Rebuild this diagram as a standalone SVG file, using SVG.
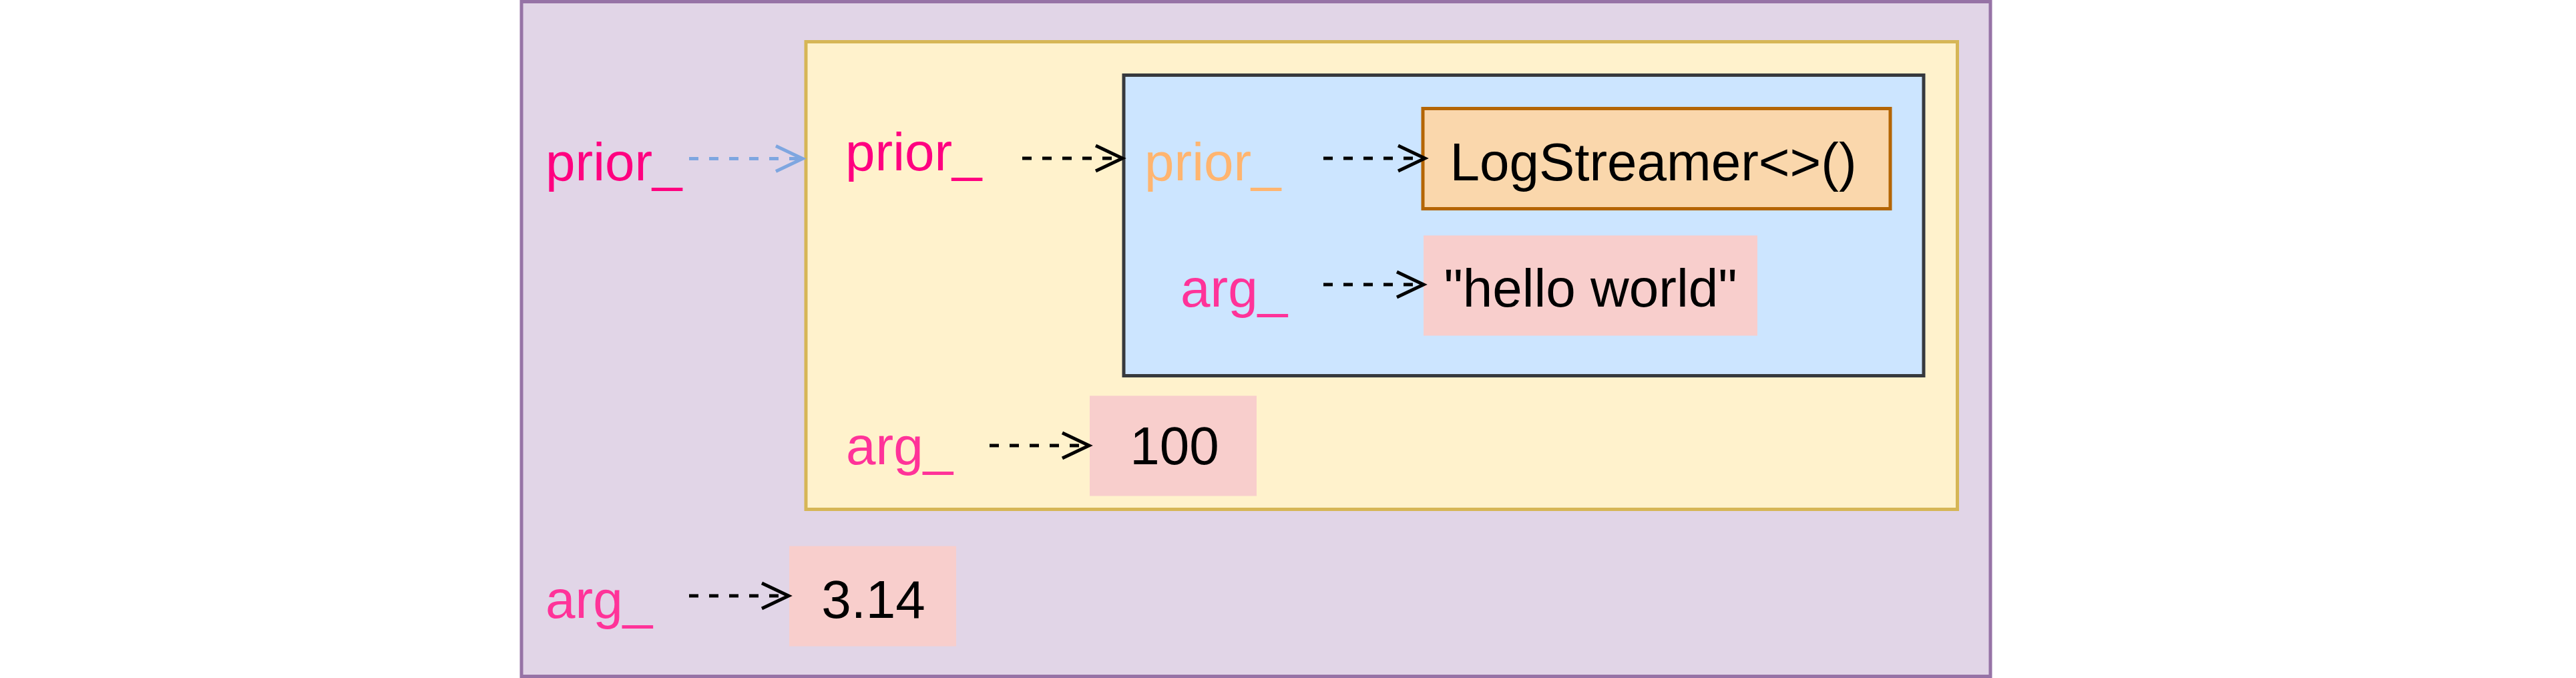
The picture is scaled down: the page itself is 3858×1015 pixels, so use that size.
<svg xmlns="http://www.w3.org/2000/svg" width="3858" height="1015" viewBox="0 0 3858 1015">
  <style>
    text { font-family: "Liberation Sans", Arial, Helvetica, sans-serif; font-size: 80px; }
    .val { fill: #000000; text-anchor: middle; }
    .prior { fill: #FF0080; }
    .priorIn { fill: #FFB570; }
    .arg { fill: #FF3399; }
    .conn { fill: none; stroke-width: 5; stroke-dasharray: 14 16; }
    .blk { stroke: #000000; marker-end: url(#openBlack); }
    .blu { stroke: #7EA6E0; marker-end: url(#openBlue); }
    .valbox { fill: #F8CECC; stroke: none; }
  </style>
  <defs>
    <marker id="openBlack" markerUnits="userSpaceOnUse" refX="0" refY="0" markerWidth="60" markerHeight="60" orient="auto" overflow="visible">
      <path d="M-40,-19 L0,0 L-40,19" fill="none" stroke="#000000" stroke-width="5" stroke-dasharray="none"/>
    </marker>
    <marker id="openBlue" markerUnits="userSpaceOnUse" refX="0" refY="0" markerWidth="60" markerHeight="60" orient="auto" overflow="visible">
      <path d="M-40,-19 L0,0 L-40,19" fill="none" stroke="#7EA6E0" stroke-width="5" stroke-dasharray="none"/>
    </marker>
  </defs>
  <rect x="0" y="0" width="3858" height="1015" fill="#FFFFFF"/>

  <g id="outer">
    <rect x="781" y="2.5" width="2200" height="1010" fill="#E1D5E7" stroke="#9673A6" stroke-width="5"/>
    <text class="prior" x="817" y="270">prior_</text>
    <text class="arg" x="817" y="925">arg_</text>
  </g>

  <g id="middle">
    <rect x="1207" y="62.5" width="1724.5" height="700" fill="#FFF2CC" stroke="#D6B656" stroke-width="5"/>
    <text class="prior" x="1266" y="255">prior_</text>
    <text class="arg" x="1267" y="695">arg_</text>
  </g>

  <g id="inner">
    <rect x="1683" y="112.5" width="1198" height="450" fill="#CCE5FF" stroke="#36393D" stroke-width="5"/>
    <text class="priorIn" x="1714" y="270">prior_</text>
    <text class="arg" x="1768" y="459">arg_</text>
  </g>

  <g id="logstreamer">
    <rect x="2131" y="162.5" width="700" height="150" fill="#FAD7AC" stroke="#B46504" stroke-width="5"/>
    <text class="val" x="2476" y="270">LogStreamer&lt;&gt;()</text>
  </g>

  <g id="hello">
    <rect class="valbox" x="2132" y="352.5" width="500" height="150"/>
    <text class="val" x="2382" y="459">"hello world"</text>
  </g>

  <g id="hundred">
    <rect class="valbox" x="1632" y="592.5" width="250" height="150"/>
    <text class="val" x="1759" y="695">100</text>
  </g>

  <g id="pi">
    <rect class="valbox" x="1182" y="817.5" width="250" height="150"/>
    <text class="val" x="1308" y="925">3.14</text>
  </g>

  <g id="connectors">
    <path class="conn blu" d="M1032,237.5 L1202,237.5"/>
    <path class="conn blk" d="M1531,237 L1681,237"/>
    <path class="conn blk" d="M1982,237 L2134,237"/>
    <path class="conn blk" d="M1982,426 L2132,426"/>
    <path class="conn blk" d="M1482,667 L1631,667"/>
    <path class="conn blk" d="M1032,892 L1181,892"/>
  </g>
</svg>
